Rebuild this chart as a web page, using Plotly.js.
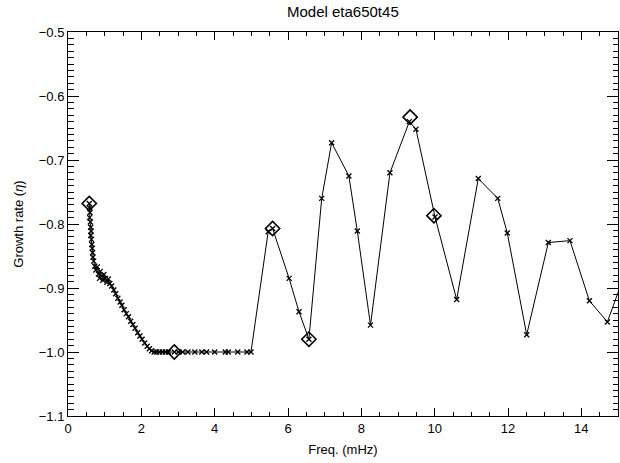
<!DOCTYPE html>
<html>
<head>
<meta charset="utf-8">
<script src="https://cdn.plot.ly/plotly-3.0.1.min.js"></script>
<style>html,body{margin:0;padding:0;background:#fff;}#plot{width:620px;height:463px;}</style>
</head>
<body>
<div id="plot"></div>
<script>
// Mode frequencies (mHz) and growth rates (eta)
const freq = [
  0.58, 0.59, 0.60, 0.59, 0.61, 0.62, 0.63, 0.62, 0.64, 0.65, 0.66, 0.67, 0.68, 0.70,
  0.73, 0.76, 0.80, 0.83, 0.86, 0.88, 0.92, 0.95, 0.98, 1.02, 1.06, 1.10, 1.14, 1.19,
  1.25, 1.30, 1.36, 1.42, 1.47, 1.53, 1.59, 1.65, 1.71, 1.77, 1.83, 1.90, 1.96, 2.02,
  2.09, 2.16, 2.22, 2.28, 2.35,
  2.42, 2.50, 2.58, 2.66, 2.74, 2.90, 3.02, 3.13, 3.27, 3.46, 3.65, 3.78, 4.00, 4.29,
  4.37, 4.63, 4.88, 4.99,
  5.46, 5.58, 6.03, 6.30, 6.57, 6.92, 7.19, 7.66, 7.89, 8.25, 8.78, 9.31, 9.49, 10.01,
  10.60, 11.19, 11.72, 11.98, 12.51, 13.10, 13.69, 14.22, 14.71, 15.30
];
const growth = [
  -0.768, -0.775, -0.782, -0.790, -0.797, -0.805, -0.811, -0.818, -0.824, -0.832, -0.838, -0.845, -0.852, -0.858,
  -0.866, -0.872, -0.867, -0.878, -0.885, -0.874, -0.881, -0.888, -0.879, -0.885, -0.891, -0.886, -0.893, -0.897,
  -0.903, -0.909, -0.916, -0.922, -0.927, -0.934, -0.940, -0.945, -0.952, -0.957, -0.963, -0.970, -0.975, -0.980,
  -0.986, -0.991, -0.995, -0.998, -1.000,
  -1.000, -1.000, -1.000, -1.000, -1.000, -1.000, -1.000, -1.000, -1.000, -1.000, -1.000, -1.000, -1.000, -1.000,
  -1.000, -1.000, -1.000, -1.000,
  -0.812, -0.807, -0.885, -0.937, -0.980, -0.760, -0.673, -0.725, -0.811, -0.958, -0.720, -0.640, -0.652, -0.789,
  -0.918, -0.729, -0.760, -0.814, -0.973, -0.829, -0.826, -0.920, -0.953, -0.860
];
// Highlighted modes (diamonds)
const markFreq = [0.58, 2.90, 5.58, 6.57, 9.33, 9.98];
const markGrowth = [-0.768, -1.000, -0.807, -0.980, -0.633, -0.787];

const xTickVals = [0, 2, 4, 6, 8, 10, 12, 14];
const yTickVals = [-1.1, -1.0, -0.9, -0.8, -0.7, -0.6, -0.5];

const fontFam = 'Liberation Sans, Arial, sans-serif';

const traces = [
  {
    x: freq, y: growth, type: 'scatter', mode: 'lines+markers',
    line: {color: '#000', width: 1},
    marker: {symbol: 'x-thin-open', size: 5, color: '#000', line: {color: '#000', width: 1.3}},
    cliponaxis: true, hoverinfo: 'none'
  },
  {
    x: markFreq, y: markGrowth, type: 'scatter', mode: 'markers',
    marker: {symbol: 'diamond-open', size: 11, color: '#000', line: {color: '#000', width: 1.6}},
    hoverinfo: 'none'
  }
];

const layout = {
  width: 620, height: 463,
  margin: {l: 68, r: 2, t: 32, b: 47},
  paper_bgcolor: '#fff', plot_bgcolor: '#fff',
  showlegend: false,
  font: {family: fontFam, color: '#000', size: 13},
  title: {text: 'Model eta650t45', x: 0.553, xanchor: 'center', y: 0.985, yanchor: 'top',
          font: {family: fontFam, size: 15, color: '#000'}},
  xaxis: {
    range: [0, 15], tickvals: xTickVals, ticktext: xTickVals.map(String),
    ticks: 'inside', ticklen: 8, tickwidth: 1, tickcolor: '#000',
    minor: {ticks: 'inside', dtick: 0.5, ticklen: 4, tickwidth: 1, tickcolor: '#000'},
    showline: true, linecolor: '#000', linewidth: 1, mirror: 'allticks',
    showgrid: false, zeroline: false,
    tickfont: {family: fontFam, size: 13},
    title: {text: 'Freq. (mHz)', font: {family: fontFam, size: 13, color: '#000'}, standoff: 10}
  },
  yaxis: {
    range: [-1.1, -0.5], tickvals: yTickVals, tickformat: '.1f',
    ticks: 'inside', ticklen: 11, tickwidth: 1, tickcolor: '#000',
    minor: {ticks: 'inside', dtick: 0.01, ticklen: 5.5, tickwidth: 1, tickcolor: '#000'},
    showline: true, linecolor: '#000', linewidth: 1, mirror: 'allticks',
    showgrid: false, zeroline: false,
    tickfont: {family: fontFam, size: 13},
    title: {text: 'Growth rate (<i>η</i>)', font: {family: fontFam, size: 13, color: '#000'}, standoff: 12}
  }
};

Plotly.newPlot('plot', traces, layout, {staticPlot: true, displayModeBar: false});
</script>
</body>
</html>
